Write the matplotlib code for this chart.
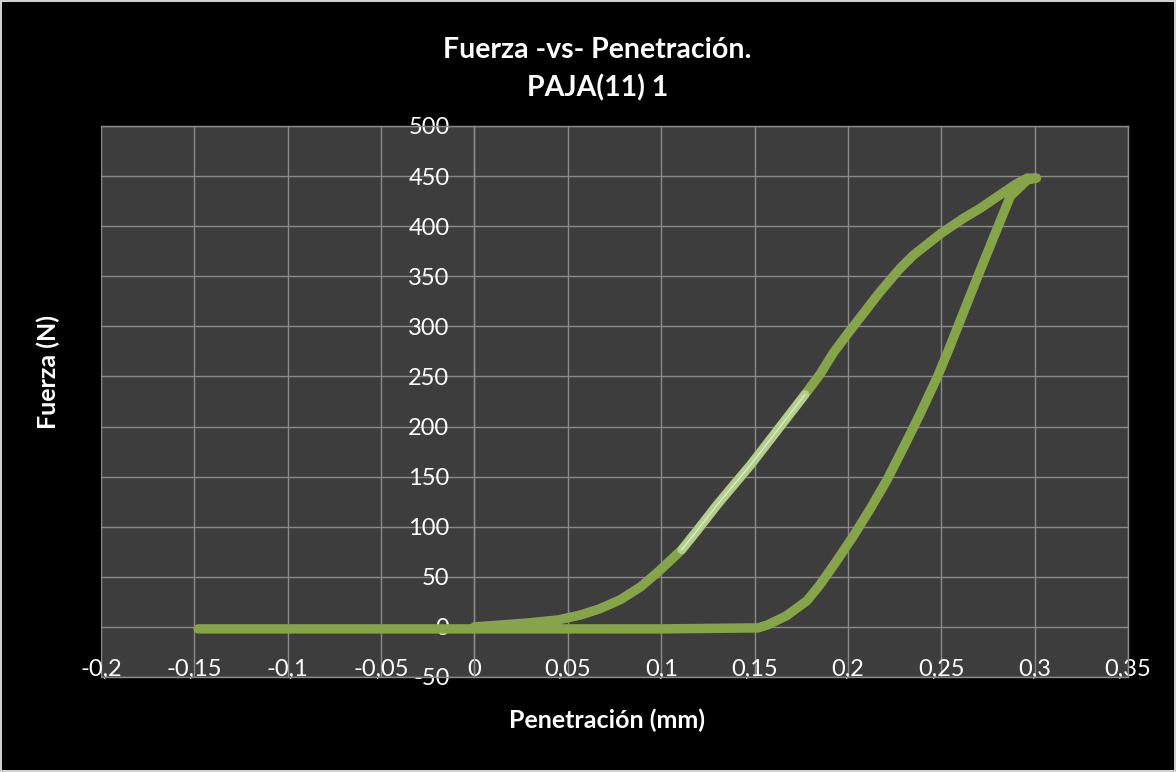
import numpy as np
import matplotlib.pyplot as plt
from matplotlib.ticker import FuncFormatter, MultipleLocator

plt.rcParams['font.family'] = ['Lato', 'DejaVu Sans']

# loading branch (Penetracion mm, Fuerza N)
x_load = [0.000, 0.015, 0.029, 0.045, 0.057, 0.067, 0.078, 0.089, 0.099,
          0.111, 0.120, 0.130, 0.148, 0.165, 0.177, 0.185, 0.192, 0.200,
          0.217, 0.228, 0.235, 0.250, 0.262, 0.271, 0.282, 0.290, 0.296, 0.301]
y_load = [0, 2, 4, 7, 12, 18, 27, 40, 56,
          77, 98, 122, 162, 203, 232, 252, 273, 293,
          334, 358, 371, 393, 408, 418, 432, 442, 448, 448]

# unloading branch
x_unload = [0.301, 0.296, 0.287, 0.270, 0.254, 0.248, 0.239, 0.230, 0.221,
            0.212, 0.203, 0.194, 0.185, 0.178, 0.167, 0.157, 0.152, 0.100,
            0.000, -0.148]
y_unload = [447, 446, 430, 352, 277, 250, 214, 180, 147,
            118, 91, 66, 42, 26, 11, 2, -1, -2,
            -2, -2]

# highlighted (fitted) range of the loading branch
fit_range = (0.111, 0.177)

x_ticks = [-0.2, -0.15, -0.1, -0.05, 0, 0.05, 0.1, 0.15, 0.2, 0.25, 0.3, 0.35]

green = '#86a44a'
grid_col = '#8a8a8a'

fig = plt.figure(figsize=(11.76, 7.72), dpi=100)
fig.patch.set_facecolor('black')
fig.patch.set_edgecolor('#d0d0d0')
fig.patch.set_linewidth(1.5)

ax = fig.add_axes([0.0859, 0.1231, 0.8733, 0.7137])
ax.set_facecolor('#3d3d3d')

xs = np.array(x_load + x_unload[1:])
ys = np.array(y_load + y_unload[1:])
ax.plot(xs, ys, color=green, lw=6.8, solid_capstyle='round',
        solid_joinstyle='round', zorder=3)

xl = np.array(x_load)
yl = np.array(y_load)
m = (xl >= fit_range[0]) & (xl <= fit_range[1])
ax.plot(xl[m], yl[m], color='#b4ce8e', lw=6.3, solid_capstyle='round', zorder=4)
ax.plot(xl[m], yl[m], color='#e8f0dc', lw=0.8, zorder=5)

ax.set_xlim(-0.2, 0.35)
ax.set_ylim(-50, 500)
ax.set_xticks(x_ticks)
ax.yaxis.set_major_locator(MultipleLocator(50))
fmt = FuncFormatter(lambda v, p: ('%g' % round(v, 3)).replace('.', ','))
ax.xaxis.set_major_formatter(fmt)
ax.yaxis.set_major_formatter(fmt)

ax.grid(True, color=grid_col, lw=1.0)
ax.set_axisbelow(True)
for s in ax.spines.values():
    s.set_color(grid_col)
    s.set_linewidth(1.0)
ax.spines['left'].set_position(('data', 0))

ax.tick_params(axis='x', length=0, pad=-13, labelsize=17, labelcolor='white')
ax.tick_params(axis='y', length=0, pad=18, labelsize=17, labelcolor='white')

fig.text(0.508, 0.935, 'Fuerza -vs- Penetración.', ha='center', va='center',
         color='white', fontsize=20.5, fontweight='bold')
fig.text(0.508, 0.886, 'PAJA(11) 1', ha='center', va='center',
         color='white', fontsize=20.5, fontweight='bold')
fig.text(0.516, 0.067, 'Penetración (mm)', ha='center', va='center',
         color='white', fontsize=18, fontweight='bold')
fig.text(0.041, 0.518, 'Fuerza (N)', ha='center', va='center', rotation=90,
         color='white', fontsize=18, fontweight='bold')

fig.savefig('out.png', dpi=100, facecolor=fig.get_facecolor(),
            edgecolor=fig.get_edgecolor())
